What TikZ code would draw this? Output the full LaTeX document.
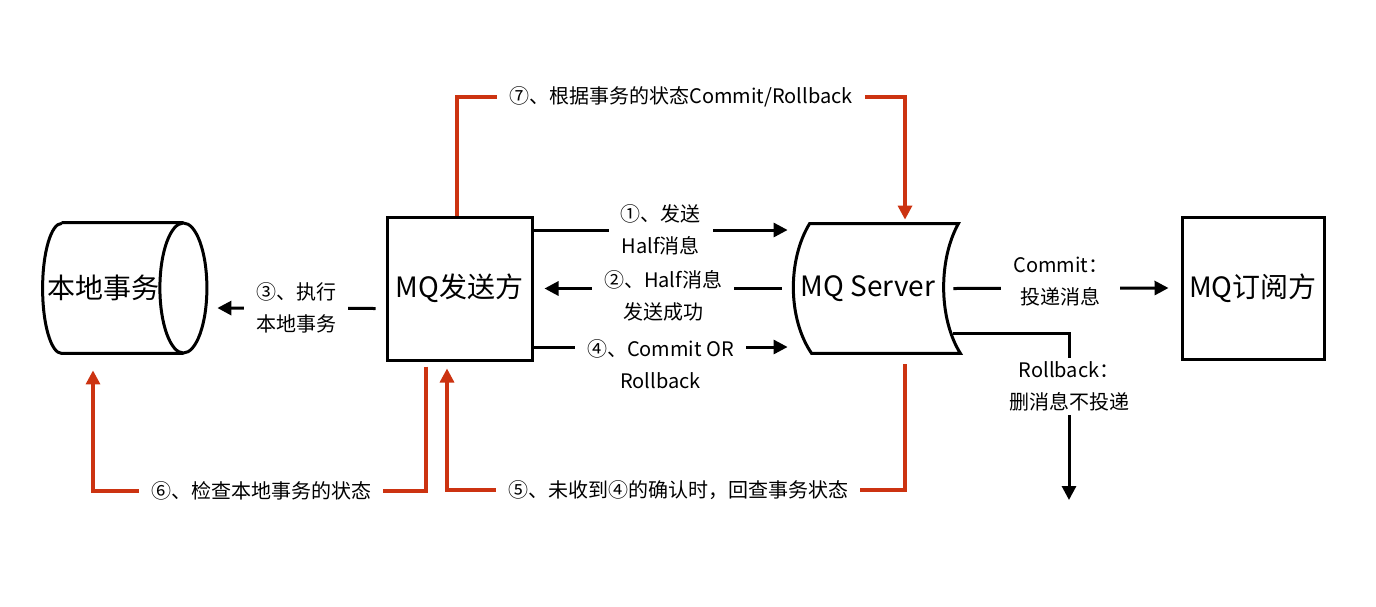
\documentclass[tikz,border=0pt]{standalone}
\usepackage{fontspec}
\setmainfont{Noto Sans CJK SC}
\usetikzlibrary{positioning, arrows.meta}
\definecolor{flow}{RGB}{204,51,17}
\tikzset{
  party/.style={rectangle, draw, line width=1.5pt, inner sep=0pt, font=\fontsize{14}{16}\selectfont},
  store/.style={rectangle, inner sep=0pt, minimum width=60pt, minimum height=65pt, font=\fontsize{14}{16}\selectfont},
  server/.style={rectangle, inner sep=0pt, minimum width=75pt, minimum height=64.5pt, font=\fontsize{14}{16}\selectfont},
  outline/.style={line width=1.5pt},
  steplabel/.style={font=\fontsize{10}{16}\selectfont, align=center, fill=white, inner xsep=6pt, inner ysep=2pt},
  msg/.style={line width=1.5pt, -{Triangle[length=7pt,width=7pt]}},
  check/.style={color=flow, line width=1.6pt},
  checkarr/.style={check, -{Triangle[length=7pt,width=7pt]}},
}

\begin{document}
\begin{tikzpicture}[x=0.5pt, y=-0.5pt]
\useasboundingbox (0,0) rectangle (1376,606);

\node[store] (db) at (103,288) {本地事务};
\node[party, minimum width=72.5pt, minimum height=71.5pt] (snd) at (459.5,288.5) {MQ发送方};
\node[server] (srv) at (868,288.5) {MQ Server};
\node[party, minimum width=71pt, minimum height=71pt] (sub) at (1253,288) {MQ订阅方};

\coordinate (dbcap) at ([shift={(20,0)}]db.east);
\draw[outline] ([shift={(19,0)}]db.north west) -- (dbcap |- db.north)
  (dbcap |- db.south) -- ([shift={(19,0)}]db.south west)
  arc[start angle=90, end angle=270, x radius=19, y radius=65];
\draw[outline] (dbcap) ellipse[x radius=23.5, y radius=65];

\draw[outline] ([shift={(17,0)}]srv.north west) -- ([shift={(15,0)}]srv.north east)
  .. controls +(-20,36) and +(-22,-35) .. ([shift={(17,0)}]srv.south east)
  -- ([shift={(19,0)}]srv.south west)
  .. controls +(-24,-35) and +(-22,36) .. ([shift={(17,0)}]srv.north west) -- cycle;

\draw[msg] ([shift={(0,-58.5)}]snd.east) -- node[steplabel] {①、发送\\Half消息} ([shift={(-5,-58.5)}]srv.west);
\draw[msg] ([shift={(-11,0)}]srv.west) -- node[steplabel, yshift=-3.75pt] {②、Half消息\\发送成功} ([shift={(11,0)}]snd.east);
\draw[msg] ([shift={(-10,20)}]snd.west) -- node[steplabel] {③、执行\\本地事务} ([shift={(34,20)}]dbcap);
\draw[msg] ([shift={(0,58.5)}]snd.east) -- node[steplabel, yshift=-8.5pt] {④、Commit OR\\Rollback} ([shift={(-5,58.5)}]srv.west);
\draw[msg] ([shift={(10,0)}]srv.east) -- node[steplabel, yshift=3.5pt] {Commit：\\投递消息} ([shift={(-12,0)}]sub.west);
\coordinate (drop) at (1069,500);
\draw[msg] ([shift={(10,44.5)}]srv.east) -| node[steplabel, pos=0.66] {Rollback：\\删消息不投递} (drop);

\node[steplabel] (l7) at (681,97) {⑦、根据事务的状态Commit/Rollback};
\node[steplabel] (l6) at (261,491) {⑥、检查本地事务的状态};
\node[steplabel] (l5) at (678,490) {⑤、未收到④的确认时，回查事务状态};

\draw[check] ([shift={(-2.5,0)}]snd.north) |- (l7.west);
\draw[checkarr] (l7.east) -| ([shift={(37,-4)}]srv.north);
\draw[check] ([shift={(-33.5,5)}]snd.south) |- (l6.east);
\draw[checkarr] (l6.west) -| ([shift={(-10,17)}]db.south);
\draw[check] ([shift={(37,11)}]srv.south) |- (l5.east);
\draw[checkarr] (l5.west) -| ([shift={(-12.5,7)}]snd.south);
\end{tikzpicture}
\end{document}
